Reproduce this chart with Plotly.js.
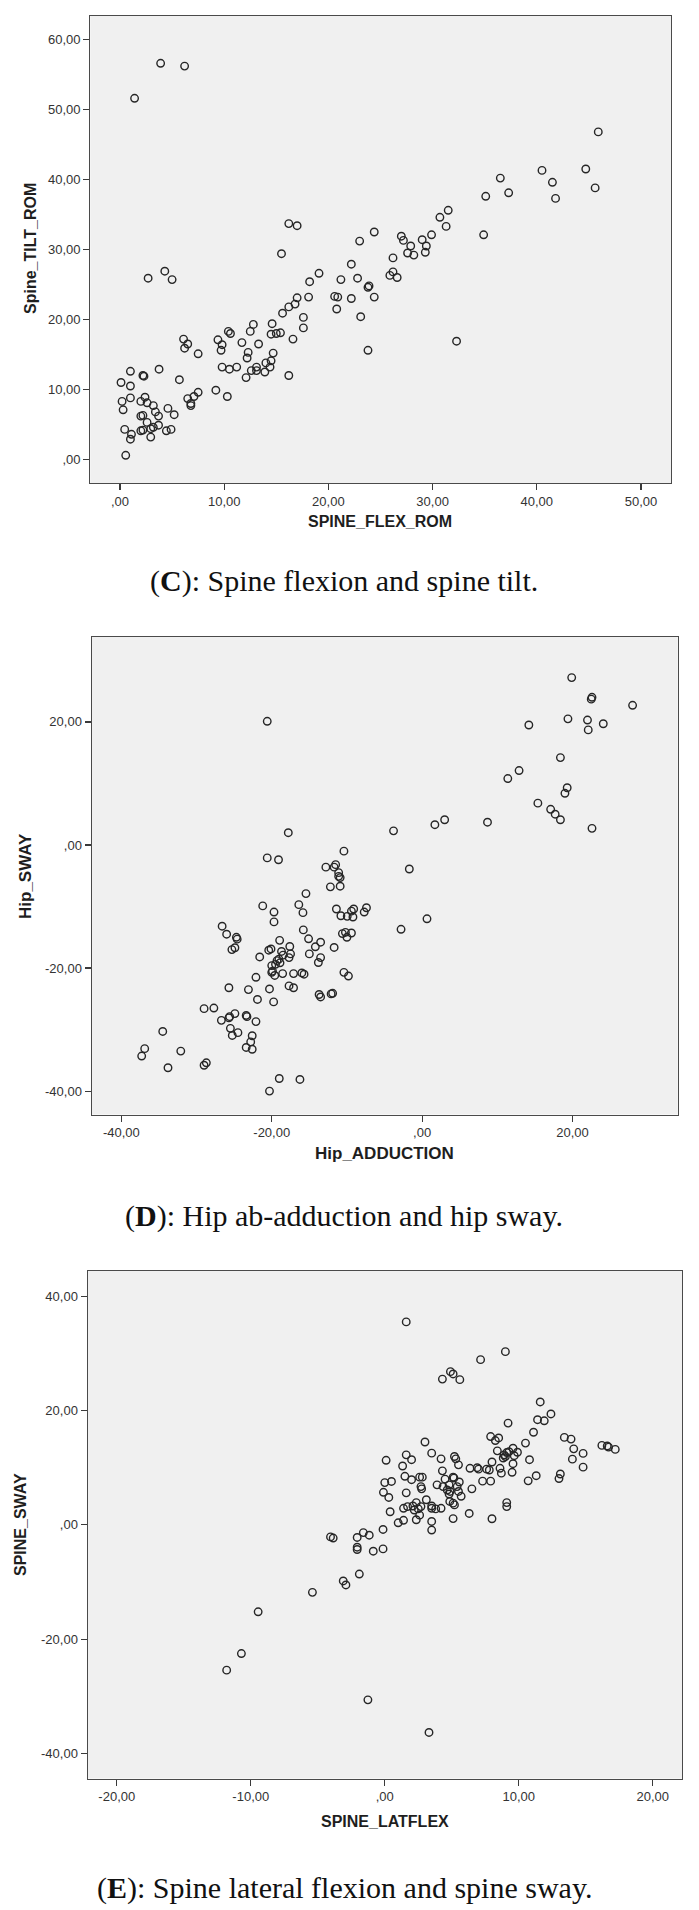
<!DOCTYPE html>
<html>
<head>
<meta charset="utf-8">
<script src="https://cdn.plot.ly/plotly-3.0.1.min.js"></script>
<style>
  body { margin: 0; background: #fff; }
  #chart { width: 699px; height: 1910px; }
</style>
</head>
<body>
<div id="chart"></div>
<script>
// (C) SPINE_FLEX_ROM vs Spine_TILT_ROM, [x, y]
const spineFlexTilt = [
  [3.9,56.6],[6.2,56.2],[1.4,51.6],[45.9,46.8],[44.7,41.5],[40.5,41.3],[41.5,39.6],[45.6,38.8],
  [36.5,40.2],[37.3,38.1],[41.8,37.3],[35.1,37.6],[31.5,35.6],[30.7,34.6],[31.3,33.3],[34.9,32.1],
  [29.9,32.1],[29.0,31.4],[27.0,31.9],[27.2,31.3],[27.9,30.5],[29.4,30.5],[27.6,29.5],[28.2,29.2],
  [29.3,29.6],[24.4,32.5],[23.0,31.2],[26.2,28.8],[16.2,33.7],[17.0,33.4],[15.5,29.4],[25.9,26.3],
  [26.2,26.8],[26.6,26.0],[22.2,27.9],[22.8,25.9],[21.2,25.7],[23.8,24.6],[23.9,24.8],[24.4,23.2],
  [22.2,23.0],[20.6,23.3],[20.9,23.2],[20.8,21.5],[23.1,20.4],[19.1,26.6],[18.2,25.4],[18.1,23.2],
  [17.0,23.1],[16.8,22.2],[16.2,21.8],[15.6,20.9],[17.6,20.3],[17.6,18.8],[16.6,17.2],[16.2,12.0],
  [23.8,15.6],[32.3,16.9],[2.7,25.9],[4.3,26.9],[5.0,25.7],
  [14.6,19.4],[14.5,17.9],[15.0,18.0],[15.4,18.1],[12.8,19.3],[12.5,18.3],[10.4,18.3],[10.6,18.0],
  [11.7,16.7],[13.3,16.5],[9.4,17.1],[9.8,16.4],[9.7,15.6],[12.3,15.3],[12.2,14.5],[14.7,15.2],
  [14.5,14.1],[14.0,13.8],[14.4,13.2],[13.9,12.5],[13.1,13.2],[13.1,12.7],[12.6,12.7],[12.1,11.7],
  [11.2,13.2],[10.5,12.9],[9.8,13.2],[9.2,9.9],[10.3,9.0],
  [6.1,17.2],[6.5,16.5],[6.2,15.9],[7.5,15.1],[5.7,11.4],[7.5,9.6],[7.1,9.0],[6.5,8.7],[6.8,8.0],
  [6.8,7.7],[3.75,12.9],[1.0,12.6],[1.0,10.5],[0.1,11.0],[2.2,12.0],[2.3,11.9],[1.0,8.8],[0.2,8.3],
  [0.3,7.1],[2.0,8.3],[2.4,8.9],[2.6,8.1],[3.2,7.7],[3.4,6.8],[3.7,6.2],[2.0,6.2],[2.2,6.3],
  [2.6,5.3],[2.0,4.1],[2.2,4.2],[2.95,4.4],[3.2,4.6],[3.7,4.9],[2.95,3.2],[4.6,7.3],[5.2,6.4],
  [4.45,4.1],[4.9,4.3],[0.45,4.3],[1.1,3.6],[1.0,2.9],[0.55,0.6]
];

// (D) Hip_ADDUCTION vs Hip_SWAY, [x, y]
const hipAddSway = [
  [19.9,27.2],[22.6,24.0],[22.5,23.7],[28.0,22.7],[-20.6,20.1],[14.2,19.5],[19.4,20.5],[22.0,20.3],
  [24.1,19.7],[22.1,18.7],[18.4,14.2],[12.9,12.1],[11.4,10.8],[19.3,9.3],[19.0,8.4],[15.4,6.8],
  [17.1,5.8],[17.7,5.0],[18.4,4.1],[22.6,2.7],[8.7,3.7],[3.0,4.1],[1.7,3.3],[-3.8,2.3],[-17.8,2.0],
  [-1.7,-3.9],[0.65,-12.0],[-2.8,-13.7],[-10.4,-1.0],[-20.6,-2.1],[-19.1,-2.4],
  [-12.8,-3.6],[-11.7,-3.6],[-11.5,-3.2],[-11.1,-4.5],[-10.9,-5.3],[-11.1,-5.1],[-12.2,-6.8],
  [-10.9,-6.7],[-15.45,-7.9],[-21.2,-9.9],[-19.7,-10.9],[-19.7,-12.5],[-16.4,-9.7],[-15.85,-11.0],
  [-11.4,-10.4],[-10.8,-11.5],[-9.96,-11.6],[-9.4,-10.75],[-9.1,-10.4],[-9.2,-11.7],[-7.7,-10.9],
  [-7.4,-10.2],
  [-26.6,-13.2],[-26.0,-14.5],[-24.7,-15.0],[-24.6,-15.3],[-25.3,-17.0],[-24.9,-16.7],[-15.8,-13.8],
  [-15.1,-15.25],[-18.95,-15.5],[-17.6,-16.5],[-17.5,-17.7],[-17.7,-18.3],[-20.4,-17.1],[-20.1,-16.9],
  [-18.7,-17.3],[-18.5,-17.9],[-19.3,-18.8],[-19.05,-18.55],[-18.9,-19.15],[-19.5,-19.4],[-20.0,-19.6],
  [-19.9,-20.5],[-20.0,-20.7],[-19.6,-21.2],[-18.55,-20.9],[-21.6,-18.2],[-22.1,-21.5],[-14.2,-16.55],
  [-13.5,-15.8],[-11.7,-16.65],[-15.0,-17.7],[-13.5,-18.3],[-13.8,-19.1],[-17.1,-20.9],[-16.0,-20.8],
  [-15.7,-21.0],[-10.6,-14.4],[-10.2,-14.2],[-9.4,-14.3],[-10.0,-15.0],[-10.4,-20.7],[-9.8,-21.3],
  [-25.7,-23.2],[-23.1,-23.5],[-20.3,-23.4],[-21.9,-25.1],[-19.75,-25.5],[-17.7,-22.9],[-17.1,-23.2],
  [-13.7,-24.3],[-13.5,-24.7],[-12.1,-24.2],[-11.9,-24.1],[-29.0,-26.6],[-27.7,-26.5],[-26.7,-28.5],
  [-25.7,-28.1],[-25.6,-27.9],[-24.9,-27.4],[-23.4,-27.7],[-23.3,-27.9],[-22.1,-28.7],[-25.5,-29.8],
  [-25.25,-30.95],[-24.5,-30.5],[-22.6,-31.0],[-22.8,-32.0],[-23.4,-32.9],[-22.6,-33.2],
  [-34.5,-30.3],[-36.9,-33.1],[-37.3,-34.3],[-32.1,-33.5],[-33.8,-36.2],[-28.7,-35.4],[-29.0,-35.8],
  [-19.0,-37.95],[-16.25,-38.1],[-20.3,-40.0]
];

// (E) SPINE_LATFLEX vs SPINE_SWAY, [x, y]
const spineLatSway = [
  [1.6,35.5],[9.0,30.3],[7.15,28.9],[4.9,26.8],[5.1,26.4],[4.3,25.5],[5.6,25.4],[11.6,21.5],
  [12.4,19.4],[11.4,18.4],[11.9,18.2],[9.2,17.8],[11.1,16.2],[13.4,15.3],[13.9,15.0],[16.2,13.9],
  [16.6,13.8],[16.7,13.6],[17.2,13.2],[14.1,13.3],[14.8,12.5],[14.0,11.5],[14.8,10.1],[13.1,8.9],
  [13.0,8.1],[11.3,8.6],[10.7,7.7],[10.8,11.4],[10.5,14.3],
  [-5.4,-11.8],[-9.45,-15.2],[-10.7,-22.5],[-11.8,-25.4],[-1.26,-30.6],[3.3,-36.3],[-3.1,-9.8],
  [-2.9,-10.5],[-1.9,-8.6],[-4.05,-2.1],[-3.85,-2.3],[-2.06,-2.2],[-2.06,-3.9],[-2.06,-4.3],
  [-1.6,-1.35],[-1.16,-1.8],[-0.86,-4.6],[-0.13,-4.2],[-0.13,-0.8],
  [7.9,15.45],[8.25,14.75],[8.5,15.2],[8.4,12.95],[8.9,12.25],[9.1,12.65],[9.27,12.8],[9.57,13.4],
  [9.9,12.7],[9.66,12.1],[8.84,11.7],[9.0,11.96],[9.57,10.7],[8.6,9.9],[8.7,9.05],[9.5,9.2],
  [8.0,11.0],[7.8,9.6],[7.6,9.75],[7.0,9.75],[6.9,10.0],[6.36,9.9],[7.3,7.65],[7.9,7.65],
  [9.1,3.9],[9.1,3.2],[8.0,1.07],[6.3,2.0],[6.5,6.3],[5.1,1.1],[5.7,5.0],[5.5,5.85],[5.4,6.7],
  [5.56,7.5],[5.16,8.2],[5.1,8.35],[4.8,7.0],[4.87,5.85],[4.8,5.4],[4.66,6.1],[4.35,6.7],[4.5,8.0],
  [4.3,9.45],[4.2,11.55],[5.2,11.96],[5.3,11.55],[5.5,10.5],[5.1,3.8],[5.2,3.5],[4.85,4.1],
  [3.9,7.0],[3.5,12.55],[3.0,14.5],[3.5,3.3],[3.5,2.9],[3.5,0.6],[3.5,-0.9],[3.1,4.4],[2.7,3.2],
  [2.75,6.3],[2.7,6.7],[2.6,8.35],[2.8,8.35],[2.0,7.9],[1.5,8.5],[1.33,10.3],[1.6,12.25],[2.0,11.4],
  [0.0,7.4],[0.5,7.6],[-0.1,5.7],[0.3,4.8],[0.1,11.3],[1.6,5.6],[0.4,2.3],[1.4,2.9],[1.7,3.2],
  [2.1,3.3],[2.35,3.9],[2.6,1.7],[2.35,0.9],[2.2,2.6],[2.5,2.8],[1.0,0.37],[1.4,0.8],[3.8,2.8],
  [4.2,2.9]
];

// tick labels (SPSS style, comma decimals)
const ticksC_x = [0, 10, 20, 30, 40, 50];
const labelsC_x = [',00', '10,00', '20,00', '30,00', '40,00', '50,00'];
const ticksC_y = [0, 10, 20, 30, 40, 50, 60];
const labelsC_y = [',00', '10,00', '20,00', '30,00', '40,00', '50,00', '60,00'];
const ticksD = [-40, -20, 0, 20];
const labelsD = ['-40,00', '-20,00', ',00', '20,00'];
const ticksE_x = [-20, -10, 0, 10, 20];
const labelsE_x = ['-20,00', '-10,00', ',00', '10,00', '20,00'];
const ticksE_y = [-40, -20, 0, 20, 40];
const labelsE_y = ['-40,00', '-20,00', ',00', '20,00', '40,00'];

const W = 699, H = 1910;
const px = v => v / W;
const py = v => 1 - v / H;

// plot frames in page pixels
const frameC = { l: 90.3, r: 671, t: 15.7, b: 483 };
const frameD = { l: 91.7, r: 677.7, t: 637, b: 1114.5 };
const frameE = { l: 87.7, r: 682, t: 1271, b: 1778.5 };

const tickFont = { family: 'Liberation Sans, Arial, sans-serif', size: 13, color: '#333' };
const titleFont = { family: 'Liberation Sans, Arial, sans-serif', size: 16, color: '#1e1e1e' };
const capFont = { family: 'Liberation Serif, Times New Roman, serif', size: 30, color: '#111' };

function axis(frame, dir, range, tickvals, ticktext, anchor) {
  const domain = dir === 'x' ? [px(frame.l), px(frame.r)] : [py(frame.b), py(frame.t)];
  return {
    domain, range, anchor,
    tickmode: 'array', tickvals, ticktext,
    ticks: 'outside', ticklen: 6, tickwidth: 1.2, tickcolor: '#3a3a3a',
    showline: true, mirror: true, linecolor: '#4a4a4a', linewidth: 1.2,
    showgrid: false, zeroline: false, fixedrange: true,
    tickfont: tickFont
  };
}

function scatter(points, xa, ya) {
  return {
    x: points.map(p => p[0]),
    y: points.map(p => p[1]),
    xaxis: xa, yaxis: ya,
    type: 'scatter', mode: 'markers',
    marker: { symbol: 'circle-open', size: 7.5, color: '#262626', line: { width: 1.4, color: '#262626' } },
    hoverinfo: 'x+y'
  };
}

const traces = [
  scatter(spineFlexTilt, 'x', 'y'),
  scatter(hipAddSway, 'x2', 'y2'),
  scatter(spineLatSway, 'x3', 'y3')
];

function label(text, x, y, font, angle) {
  return {
    text, x: px(x), y: py(y), xref: 'paper', yref: 'paper',
    xanchor: 'center', yanchor: 'middle', showarrow: false,
    textangle: angle || 0, font
  };
}

const layout = {
  width: W, height: H,
  margin: { l: 0, r: 0, t: 0, b: 0 },
  paper_bgcolor: '#ffffff',
  plot_bgcolor: '#f0f0f0',
  showlegend: false,
  xaxis: axis(frameC, 'x', [-2.85, 52.88], ticksC_x, labelsC_x, 'y'),
  yaxis: axis(frameC, 'y', [-3.36, 63.4], ticksC_y, labelsC_y, 'x'),
  xaxis2: axis(frameD, 'x', [-43.95, 34.0], ticksD, labelsD, 'y2'),
  yaxis2: axis(frameD, 'y', [-43.8, 33.8], ticksD, labelsD, 'x2'),
  xaxis3: axis(frameE, 'x', [-22.17, 22.18], ticksE_x, labelsE_x, 'y3'),
  yaxis3: axis(frameE, 'y', [-44.35, 44.4], ticksE_y, labelsE_y, 'x3'),
  annotations: [
    label('<b>SPINE_FLEX_ROM</b>', 380, 521, titleFont),
    label('<b>Spine_TILT_ROM</b>', 31, 249, titleFont, -90),
    label('(<b>C</b>): Spine flexion and spine tilt.', 344, 581, capFont),
    label('<b>Hip_ADDUCTION</b>', 384, 1153, { ...titleFont, size: 17 }),
    label('<b>Hip_SWAY</b>', 25, 876, { ...titleFont, size: 17 }, -90),
    label('(<b>D</b>): Hip ab-adduction and hip sway.', 344, 1216, capFont),
    label('<b>SPINE_LATFLEX</b>', 385, 1821, titleFont),
    label('<b>SPINE_SWAY</b>', 20, 1525, titleFont, -90),
    label('(<b>E</b>): Spine lateral flexion and spine sway.', 344, 1888, capFont)
  ]
};

Plotly.newPlot('chart', traces, layout, { displayModeBar: false, staticPlot: true });
</script>
</body>
</html>
